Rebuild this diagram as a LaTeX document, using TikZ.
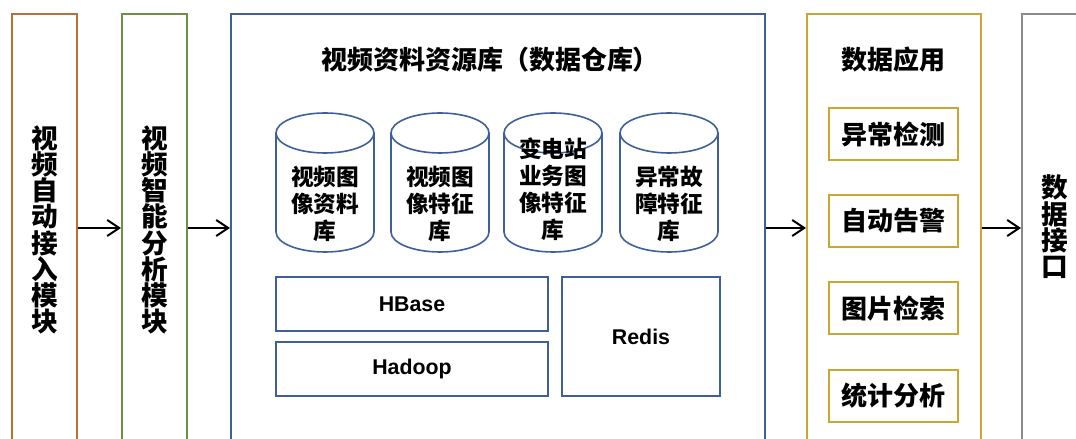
\documentclass[tikz,border=0pt]{standalone}
\usepackage{fontspec}
\setmainfont{Liberation Sans}
\newfontfamily\cjk{Noto Sans CJK SC}
\usetikzlibrary{arrows.meta}
\definecolor{cAccess}{HTML}{B8703A}
\definecolor{cAnalysis}{HTML}{6E8F45}
\definecolor{cStore}{HTML}{3E5F99}
\definecolor{cApp}{HTML}{C8A830}
\definecolor{cPort}{HTML}{8A8A8A}

\begin{document}
\begin{tikzpicture}[x=0.75pt, y=0.75pt,
  column/.style={draw, line width=1.5pt, minimum height=321pt, inner sep=0pt},
  vtext/.style={align=center, inner sep=0pt, font=\cjk\bfseries\fontsize{20}{19.7}\selectfont},
  title/.style={inner sep=0pt, font=\cjk\bfseries\fontsize{19.5}{23}\selectfont},
  dbtext/.style={align=center, inner sep=0pt, font=\cjk\bfseries\fontsize{17}{20.25}\selectfont},
  techbox/.style={draw=cStore, line width=1.5pt, inner sep=0pt, font=\bfseries\fontsize{16}{19}\selectfont},
  appbox/.style={draw=cApp, line width=1.5pt, inner sep=0pt, minimum width=96.75pt, minimum height=39pt, font=\cjk\bfseries\fontsize{19.5}{23}\selectfont},
  dbline/.style={draw=cStore, line width=1.2pt},
  arr/.style={-{Straight Barb[length=9pt, width=12pt]}, line width=1.5pt}]
  \clip (0,0) rectangle (1076,439);

  \node[column, draw=cAccess, minimum width=48.75pt] (access) at (44.5,211) {};
  \node[column, draw=cAnalysis, minimum width=48.75pt] (analysis) at (154.5,211) {};
  \node[column, draw=cStore, minimum width=400.5pt] (store) at (498,211) {};
  \node[column, draw=cApp, minimum width=130.5pt] (app) at (894,211) {};
  \node[column, draw=cPort, minimum width=58.5pt] (port) at (1061,211) {};

  \node[vtext] (accesstext) at (44.5,209) {视\\频\\自\\动\\接\\入\\模\\块};
  \node[vtext] (analysistext) at (154.5,209) {视\\频\\智\\能\\分\\析\\模\\块};
  \node[vtext] (porttext) at (1055,212) {数\\据\\接\\口};

  \node[title] (storetitle) at (490,379) {视频资料资源库（数据仓库）};
  \node[title] (apptitle) at (893,379) {数据应用};

  \foreach \cx in {325,440,553,669} {
    \draw[dbline] (\cx-49,306) -- (\cx-49,207) arc[start angle=180, end angle=360, x radius=36.75pt, y radius=15pt] -- (\cx+49,306);
    \draw[dbline] (\cx,306) ellipse [x radius=36.75pt, y radius=15pt];
  }
  \node[dbtext] (db1) at (325,235.5) {视频图\\像资料\\库};
  \node[dbtext] (db2) at (440,235.5) {视频图\\像特征\\库};
  \node[dbtext] (db3) at (553,250) {变电站\\业务图\\像特征\\库};
  \node[dbtext] (db4) at (669,235.5) {异常故\\障特征\\库};

  \node[techbox, minimum width=204pt, minimum height=40.5pt] (hbase) at (412,135) {HBase};
  \node[techbox, minimum width=204pt, minimum height=40.5pt] (hadoop) at (412,70) {Hadoop};
  \node[techbox, minimum width=118.5pt, minimum height=89.25pt] (redis) at (641,102.5) {Redis};

  \node[appbox] (detect) at (893.5,305) {异常检测};
  \node[appbox] (alarm) at (893.5,218) {自动告警};
  \node[appbox] (search) at (893.5,130.5) {图片检索};
  \node[appbox] (stats) at (893.5,43) {统计分析};

  \draw[arr] (access) -- (analysis);
  \draw[arr] (analysis) -- (store);
  \draw[arr] (store) -- (app);
  \draw[arr] (app) -- (port);
\end{tikzpicture}
\end{document}
